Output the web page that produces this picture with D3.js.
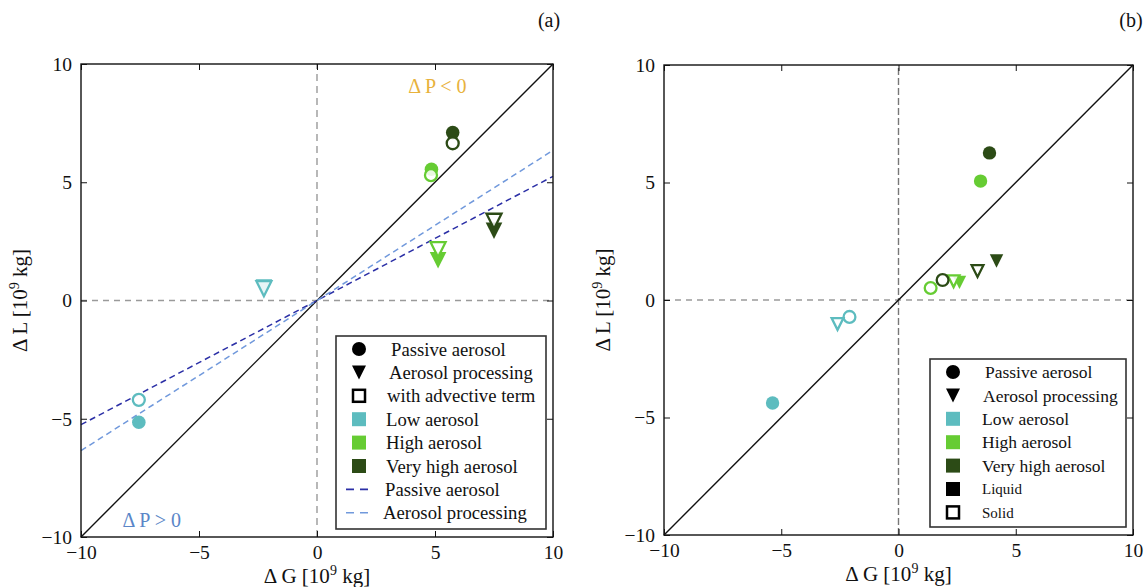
<!DOCTYPE html>
<html>
<head>
<meta charset="utf-8">
<script src="https://cdn.jsdelivr.net/npm/d3@7/dist/d3.min.js"></script>
<style>
  html, body { margin: 0; padding: 0; background: #fff; }
  svg { display: block; }
  text { font-family: "Liberation Serif", "DejaVu Serif", serif; fill: #111; }
</style>
</head>
<body>
<svg id="fig" width="1148" height="587"></svg>
<script>
// Axis ticks shared by both panels
const tickValues = [-10, -5, 0, 5, 10];

// Aerosol regimes and their colours
const groupNames = ["Low aerosol", "High aerosol", "Very high aerosol"];
const groupColors = ["#5dbcbf", "#66cc33", "#2c4b16"];

// Panel (a): change in generation vs. loss, with and without advective term
const aGroup  = [0, 0, 0, 0, 1, 1, 1, 1, 2, 2, 2, 2];
const aMarker = ["circle", "circle", "triangle", "triangle", "circle", "circle", "triangle", "triangle", "circle", "circle", "triangle", "triangle"];
const aOpen   = [false, true, false, true, false, true, false, true, false, true, false, true];
const aDG     = [-7.55, -7.55, -2.25, -2.25, 4.85, 4.83, 5.13, 5.13, 5.75, 5.75, 7.5, 7.5];
const aDL     = [-5.15, -4.2, 0.55, 0.5, 5.55, 5.3, 1.7, 2.15, 7.1, 6.65, 2.95, 3.35];

// Fitted slopes of the regression lines in panel (a)
const fitNames  = ["Passive aerosol", "Aerosol processing"];
const fitSlopes = [0.525, 0.635];
const fitColors = ["#2b2fa6", "#7199dc"];

// Panel (b): liquid (filled) and solid (open) phases
const bGroup  = [0, 0, 0, 1, 1, 1, 1, 2, 2, 2, 2];
const bMarker = ["circle", "circle", "triangle", "circle", "circle", "triangle", "triangle", "circle", "circle", "triangle", "triangle"];
const bOpen   = [false, true, true, false, true, true, false, false, true, false, true];
const bDG     = [-5.37, -2.09, -2.6, 3.5, 1.37, 2.35, 2.6, 3.88, 1.88, 4.18, 3.37];
const bDL     = [-4.38, -0.72, -1.02, 5.06, 0.51, 0.8, 0.75, 6.26, 0.85, 1.66, 1.23];

const svg = d3.select("#fig");

function tri(s) {
  return `M${-s},${-s}L${s},${-s}L0,${s}Z`;
}

function drawPanel(opt) {
  const x = d3.scaleLinear().domain([-10, 10]).range([opt.left, opt.right]);
  const y = d3.scaleLinear().domain([-10, 10]).range([opt.bottom, opt.top]);
  const g = svg.append("g");

  // zero reference lines
  g.append("line").attr("x1", x(0)).attr("x2", x(0)).attr("y1", y(-10)).attr("y2", y(10))
    .attr("stroke", opt.zeroColor).attr("stroke-width", 1.4).attr("stroke-dasharray", opt.zeroDash);
  g.append("line").attr("x1", x(-10)).attr("x2", x(10)).attr("y1", y(0)).attr("y2", y(0))
    .attr("stroke", "#9a9a9a").attr("stroke-width", 1.5).attr("stroke-dasharray", "6,5");

  // 1:1 line
  g.append("line").attr("x1", x(-10)).attr("y1", y(-10)).attr("x2", x(10)).attr("y2", y(10))
    .attr("stroke", "#111").attr("stroke-width", 1.4);

  // regression lines through the origin
  if (opt.fits) {
    fitSlopes.forEach((m, i) => {
      g.append("line").attr("x1", x(-10)).attr("y1", y(-10 * m)).attr("x2", x(10)).attr("y2", y(10 * m))
        .attr("stroke", fitColors[i]).attr("stroke-width", 1.5).attr("stroke-dasharray", "6,4");
    });
  }

  // frame and inward ticks on all sides
  g.append("rect").attr("x", opt.left).attr("y", opt.top)
    .attr("width", opt.right - opt.left).attr("height", opt.bottom - opt.top)
    .attr("fill", "none").attr("stroke", "#111").attr("stroke-width", 1.4);

  const fmt = v => (v < 0 ? "\u2212" + Math.abs(v) : String(v));
  const axB = d3.axisBottom(x).tickValues(tickValues).tickSize(-6).tickPadding(8).tickFormat(fmt);
  const axL = d3.axisLeft(y).tickValues(tickValues).tickSize(-6).tickPadding(9).tickFormat(fmt);
  const axT = d3.axisTop(x).tickValues(tickValues).tickSize(-6).tickFormat("");
  const axR = d3.axisRight(y).tickValues(tickValues).tickSize(-6).tickFormat("");
  const styleAxis = sel => {
    sel.select(".domain").remove();
    sel.selectAll(".tick line").attr("stroke", "#111").attr("stroke-width", 1);
    sel.selectAll(".tick text").attr("fill", "#111")
      .style("font-family", '"Liberation Serif", serif').style("font-size", "19.5px");
  };
  g.append("g").attr("transform", `translate(0,${opt.bottom})`).call(axB).call(styleAxis);
  g.append("g").attr("transform", `translate(${opt.left},0)`).call(axL).call(styleAxis);
  g.append("g").attr("transform", `translate(0,${opt.top})`).call(axT).call(styleAxis);
  g.append("g").attr("transform", `translate(${opt.right},0)`).call(axR).call(styleAxis);

  // axis labels
  const xl = g.append("text").attr("x", x(0)).attr("y", opt.bottom + 46)
    .attr("text-anchor", "middle").style("font-size", "21px");
  xl.append("tspan").text("\u0394 G [10");
  xl.append("tspan").attr("dy", -8).style("font-size", "14px").text("9");
  xl.append("tspan").attr("dy", 8).text(" kg]");

  const yl = g.append("text")
    .attr("transform", `translate(${opt.left - 54},${y(0)}) rotate(-90)`)
    .attr("text-anchor", "middle").style("font-size", "21px");
  yl.append("tspan").text("\u0394 L [10");
  yl.append("tspan").attr("dy", -8).style("font-size", "14px").text("9");
  yl.append("tspan").attr("dy", 8).text(" kg]");

  // panel tag
  g.append("text").attr("x", opt.tagX).attr("y", 27).attr("text-anchor", "middle")
    .style("font-size", "20px").text(opt.tag);

  // data markers: filled first, open (solid / advective) on top
  const pts = opt.dg.map((v, i) => ({
    dg: v, dl: opt.dl[i], grp: opt.grp[i], marker: opt.marker[i], open: opt.open[i]
  }));
  pts.sort((a, b) => (a.open === b.open ? 0 : a.open ? 1 : -1));
  pts.forEach(p => {
    const c = groupColors[p.grp];
    const cx = x(p.dg), cy = y(p.dl);
    let m;
    if (p.marker === "circle") {
      m = g.append("circle").attr("cx", cx).attr("cy", cy).attr("r", p.open ? opt.r - 0.8 : opt.r);
    } else {
      m = g.append("path").attr("d", tri(p.open ? opt.t - 0.8 : opt.t)).attr("transform", `translate(${cx},${cy})`);
    }
    if (p.open) m.attr("fill", "#fff").attr("fill-opacity", 0.85).attr("stroke", c).attr("stroke-width", 2.3);
    else m.attr("fill", c).attr("stroke", "none");
  });

  return { g, x, y };
}

function drawLegend(g, box, rows) {
  g.append("rect").attr("x", box.x).attr("y", box.y).attr("width", box.w).attr("height", box.h)
    .attr("fill", "#fff").attr("stroke", "#333").attr("stroke-width", 1.6);
  rows.forEach((r, i) => {
    const cy = box.y0 + i * box.dy;
    const mx = box.mx;
    if (r.kind === "circle") {
      g.append("circle").attr("cx", mx).attr("cy", cy).attr("r", 7).attr("fill", "#000");
    } else if (r.kind === "triangle") {
      g.append("path").attr("d", tri(7)).attr("transform", `translate(${mx},${cy})`).attr("fill", "#000");
    } else if (r.kind === "square") {
      g.append("rect").attr("x", mx - 7).attr("y", cy - 7).attr("width", 14).attr("height", 14).attr("fill", r.color);
    } else if (r.kind === "openSquare") {
      g.append("rect").attr("x", mx - 6).attr("y", cy - 6).attr("width", 12).attr("height", 12)
        .attr("fill", "#fff").attr("stroke", "#000").attr("stroke-width", 2.5);
    } else if (r.kind === "dash") {
      g.append("line").attr("x1", mx - 13).attr("x2", mx + 13).attr("y1", cy).attr("y2", cy)
        .attr("stroke", r.color).attr("stroke-width", 1.6).attr("stroke-dasharray", "8,6");
    }
    g.append("text").attr("x", box.tx + (r.dx || 0)).attr("y", cy).attr("dy", "0.35em")
      .style("font-size", (r.size || box.fs) + "px").text(r.label);
  });
}

// Panel (a)
const pa = drawPanel({
  left: 81, right: 553, top: 64, bottom: 537,
  dg: aDG, dl: aDL, grp: aGroup, marker: aMarker, open: aOpen,
  fits: true, zeroColor: "#9a9a9a", zeroDash: "7,5", r: 6.8, t: 8.3,
  tag: "(a)", tagX: 549
});
pa.g.append("text").attr("x", pa.x(5.1)).attr("y", pa.y(9.05)).attr("dy", "0.35em").attr("text-anchor", "middle")
  .style("font-size", "20px").style("fill", "#e8b23c").text("\u0394 P < 0");
pa.g.append("text").attr("x", pa.x(-7.0)).attr("y", pa.y(-9.3)).attr("dy", "0.35em").attr("text-anchor", "middle")
  .style("font-size", "20px").style("fill", "#5a86c8").text("\u0394 P > 0");

drawLegend(pa.g, { x: 336, y: 336, w: 210, h: 193, y0: 349, dy: 23.4, mx: 359, tx: 386, fs: 18.7 }, [
  { kind: "circle", label: "Passive aerosol", dx: 5 },
  { kind: "triangle", label: "Aerosol processing", dx: 3 },
  { kind: "openSquare", label: "with advective term", dx: 1 },
  { kind: "square", color: groupColors[0], label: groupNames[0] },
  { kind: "square", color: groupColors[1], label: groupNames[1] },
  { kind: "square", color: groupColors[2], label: groupNames[2] },
  { kind: "dash", color: fitColors[0], label: fitNames[0], dx: -1 },
  { kind: "dash", color: fitColors[1], label: fitNames[1], dx: -3 }
]);

// Panel (b)
const pb = drawPanel({
  left: 664, right: 1133, top: 65, bottom: 535,
  dg: bDG, dl: bDL, grp: bGroup, marker: bMarker, open: bOpen,
  fits: false, zeroColor: "#777", zeroDash: "7,3", r: 6.7, t: 6.7,
  tag: "(b)", tagX: 1131
});

drawLegend(pb.g, { x: 930, y: 359, w: 196, h: 168, y0: 372, dy: 23.4, mx: 953, tx: 982, fs: 17.5 }, [
  { kind: "circle", label: "Passive aerosol", dx: 3 },
  { kind: "triangle", label: "Aerosol processing", dx: 1 },
  { kind: "square", color: groupColors[0], label: groupNames[0] },
  { kind: "square", color: groupColors[1], label: groupNames[1] },
  { kind: "square", color: groupColors[2], label: groupNames[2] },
  { kind: "square", color: "#000", label: "Liquid", size: 15 },
  { kind: "openSquare", label: "Solid", size: 15 }
]);
</script>
</body>
</html>
